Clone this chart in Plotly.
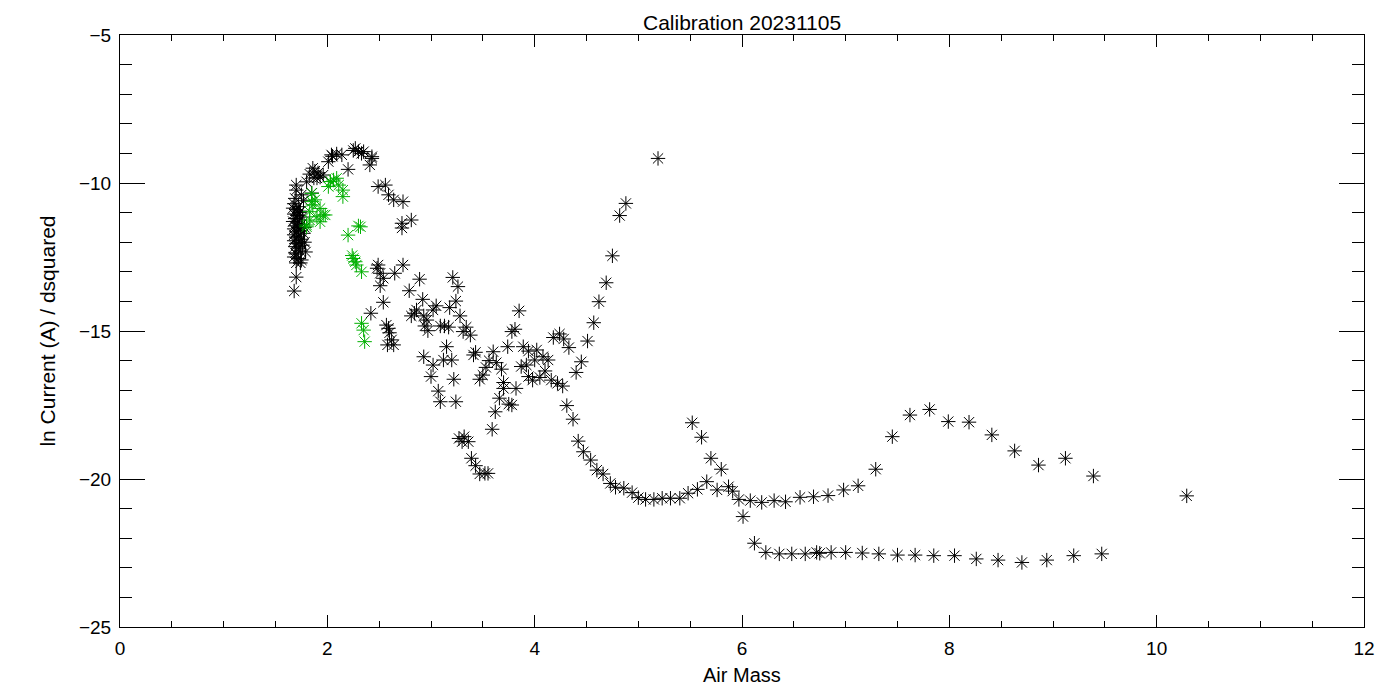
import plotly.graph_objects as go

# ---- data ----
# black points: air mass / ln current
air_black = [
    1.68, 1.70, 1.69, 1.74, 1.79,
    1.70, 1.80, 1.86, 1.87, 1.96, 1.85, 1.70, 1.69, 1.88, 1.91, 1.90,
    1.68, 1.72, 1.70, 1.74, 1.68, 1.71, 1.76, 1.69, 1.73, 1.67, 1.71, 1.75, 1.69, 1.72,
    1.68, 1.74, 1.70, 1.77, 1.68, 1.72, 1.70, 1.75, 1.68, 1.73, 1.70, 1.76, 1.69, 1.72,
    1.74, 1.70, 1.68, 1.72, 1.75, 1.70, 1.73, 1.67, 1.78, 1.78, 1.77, 1.75,
    2.01, 2.04, 2.09, 2.14, 2.05, 2.20, 2.27, 2.30, 2.33, 2.35, 2.25, 2.43, 2.41, 2.43,
    1.83, 1.93,
    2.49, 2.56, 2.59, 2.64, 2.73, 2.72, 2.72, 2.81,
    2.49, 2.48, 2.51, 2.54, 2.51, 2.65, 2.73, 2.54, 2.42, 2.57, 2.59, 2.60, 2.62, 2.58, 2.64,
    2.89, 3.21, 3.26, 2.79, 2.92, 3.24, 3.05, 3.02, 3.18, 2.86, 2.81, 2.84, 2.93, 2.96,
    2.94, 2.97, 3.09, 3.13, 3.17, 3.28, 3.85, 3.31, 3.34, 3.38, 3.15, 2.93, 3.02, 3.12,
    3.20, 3.00, 3.22, 3.07, 3.09, 3.24, 3.41, 3.43, 3.60, 3.74, 3.81, 3.78, 3.56, 3.63,
    3.53, 3.68, 3.50, 3.47, 3.70, 3.70, 3.82, 3.66, 3.75, 3.78, 3.62, 3.59, 3.89, 3.94,
    4.02, 3.87, 3.92, 4.00, 4.08, 4.13, 4.10, 3.94, 3.98, 4.05, 4.16, 4.22, 4.27, 4.18,
    4.24, 4.28, 4.33, 4.51, 4.45, 4.40, 4.57, 4.62, 4.31, 4.37, 4.42, 4.47, 4.54, 4.60,
    3.27, 3.32, 3.36, 3.30, 3.39, 3.43, 3.47, 3.52, 3.55,
    5.19, 4.88, 4.82, 4.75, 4.69, 4.66, 4.73, 4.78, 4.86, 4.94, 5.00, 5.07, 5.15, 5.23,
    5.31, 5.40, 5.48, 5.57, 5.66, 5.76, 5.52, 5.61, 5.70,
    5.87, 5.91, 5.97, 6.08, 6.19, 6.31, 6.42, 6.56, 6.69, 6.83, 6.98, 7.12, 7.29, 7.45,
    7.62, 5.80, 6.01, 6.12, 6.23, 6.36, 6.48, 6.61, 6.72, 6.75, 6.86, 7.00, 7.16, 7.32,
    7.50, 7.67,
    7.81, 7.99, 8.19, 8.41, 8.63, 8.86, 9.12, 9.39, 10.29,
    7.85, 8.05, 8.26, 8.47, 8.70, 8.94, 9.20, 9.47,
]
lnc_black = [
    -13.65, -13.18, -12.36, -12.70, -12.33,
    -10.07, -9.96, -9.50, -9.83, -9.73, -10.34, -10.24, -10.52, -9.60, -9.66, -9.83,
    -10.70, -10.80, -10.90, -10.95, -11.05, -11.10, -11.15, -11.20, -11.25, -11.30, -11.35, -11.40, -11.45, -11.50,
    -11.55, -11.60, -11.65, -11.70, -11.75, -11.80, -11.85, -11.90, -11.95, -12.00, -12.05, -12.10, -12.15, -12.20,
    -12.30, -12.40, -12.50, -12.55, -12.60, -12.70, -11.00, -10.85, -11.50, -12.00, -10.60, -10.40,
    -9.28, -9.05, -9.02, -9.05, -9.10, -9.54, -8.83, -8.94, -9.00, -8.94, -8.90, -9.17, -9.39, -9.11,
    -9.70, -9.80,
    -10.12, -10.07, -10.40, -10.57, -10.63, -11.36, -11.52, -11.25,
    -12.77, -12.88, -13.05, -13.22, -13.47, -13.05, -12.77, -14.03, -14.40, -14.80, -14.91, -15.06, -15.30, -15.47, -15.47,
    -13.25, -13.19, -13.50, -13.64, -13.93, -13.99, -14.15, -14.29, -14.21, -14.29, -14.49, -14.40, -14.49, -14.63,
    -14.83, -14.99, -14.83, -14.83, -14.87, -14.49, -14.32, -15.02, -14.87, -15.14, -15.53, -15.87, -16.15, -15.98,
    -15.98, -16.54, -16.63, -17.03, -17.39, -17.39, -15.81, -15.72, -15.70, -15.53, -14.94, -15.02, -16.00, -16.07,
    -16.23, -16.29, -16.49, -16.63, -16.74, -16.94, -16.94, -17.27, -17.47, -17.50, -17.73, -18.32, -15.53, -15.68,
    -15.64, -16.20, -16.15, -15.98, -15.87, -15.98, -16.35, -16.54, -16.66, -16.57, -16.66, -16.77, -16.86, -15.22,
    -15.10, -15.27, -15.56, -15.34, -16.04, -16.40, -14.72, -14.01, -17.52, -17.98, -18.72, -19.08, -19.36, -19.70,
    -18.63, -18.57, -18.74, -18.74, -19.30, -19.55, -19.83, -19.81, -19.81,
    -9.17, -10.69, -11.10, -12.46, -13.37, -19.83, -20.15, -20.28, -20.31, -20.46, -20.63, -20.69, -20.69, -20.65,
    -20.65, -20.65, -20.48, -20.35, -20.09, -20.37, -18.10, -18.59, -19.30,
    -20.26, -20.41, -20.69, -20.73, -20.79, -20.73, -20.77, -20.62, -20.60, -20.56, -20.37, -20.23, -19.67, -18.57,
    -17.84, -19.67, -21.27, -22.17, -22.48, -22.53, -22.53, -22.53, -22.48, -22.51, -22.48, -22.48, -22.50, -22.53,
    -22.57, -22.57,
    -17.65, -18.06, -18.08, -18.51, -19.05, -19.53, -19.30, -19.90, -20.57,
    -22.59, -22.59, -22.70, -22.74, -22.82, -22.74, -22.59, -22.53,
]

# green points
air_green = [
    2.06, 2.09, 2.03, 2.01, 2.11, 2.15, 2.15, 1.85, 1.88, 1.86, 1.93, 1.83, 1.96, 1.90,
    1.83, 1.93, 1.80, 2.32, 2.20, 2.25, 2.27, 2.28, 2.33, 2.33, 2.35, 2.36, 1.85, 1.98,
    1.80, 2.24, 2.30,
]
lnc_green = [
    -9.90, -9.84, -9.95, -10.12, -10.07, -10.24, -10.46, -10.35, -10.57, -10.74, -10.86, -10.97, -11.08, -11.14,
    -11.25, -11.31, -11.42, -11.48, -11.76, -12.55, -12.66, -12.77, -13.00, -14.74, -14.97, -15.36, -10.63, -11.08,
    -11.48, -12.45, -11.45,
]

font_fam = "Liberation Sans"

fig = go.Figure()
fig.add_trace(go.Scatter(x=air_black, y=lnc_black, mode='markers',
                         marker=dict(symbol='asterisk-open', size=12, color='black',
                                     line=dict(color='black', width=1)),
                         showlegend=False))
fig.add_trace(go.Scatter(x=air_green, y=lnc_green, mode='markers',
                         marker=dict(symbol='asterisk-open', size=12, color='#00b000',
                                     line=dict(color='#00b000', width=1)),
                         showlegend=False))

# page has an 8px body margin, so the figure is shrunk to fit the window
fig.update_layout(
    width=1384, height=684,
    margin=dict(l=112, r=28, t=27, b=65),
    plot_bgcolor='white', paper_bgcolor='white',
    font=dict(family=font_fam, size=19, color='black'),
)
# title and axis titles as annotations so they sit where the reference has them
fig.add_annotation(text='Calibration 20231105', xref='paper', x=0.5, xanchor='center',
                   yref='paper', y=1.0445, yanchor='top', showarrow=False,
                   font=dict(family=font_fam, size=21, color='black'))
fig.add_annotation(text='Air Mass', xref='paper', x=0.5, xanchor='center',
                   yref='paper', y=-0.081, yanchor='middle', showarrow=False,
                   font=dict(family=font_fam, size=20, color='black'))
fig.add_annotation(text='ln Current (A) / dsquared', xref='paper', x=-0.059,
                   xanchor='center', yref='paper', y=0.5, yanchor='middle',
                   textangle=-90, showarrow=False,
                   font=dict(family=font_fam, size=21, color='black'))

fig.update_xaxes(range=[0, 12], dtick=2, tick0=0, ticks='inside', ticklen=12,
                 tickwidth=1, tickcolor='black', showline=True, linecolor='black',
                 linewidth=1, mirror='allticks', showgrid=False, zeroline=False,
                 minor=dict(dtick=0.5, ticks='inside', ticklen=6, tickcolor='black', showgrid=False),
                 ticklabelstandoff=4)
fig.update_yaxes(range=[-25, -5], dtick=5, tick0=0, ticks='inside', ticklen=25,
                 tickwidth=1, tickcolor='black', showline=True, linecolor='black',
                 linewidth=1, mirror='allticks', showgrid=False, zeroline=False,
                 minor=dict(dtick=1, ticks='inside', ticklen=12, tickcolor='black', showgrid=False),
                 ticklabelstandoff=4)

fig.write_html("out.html")
